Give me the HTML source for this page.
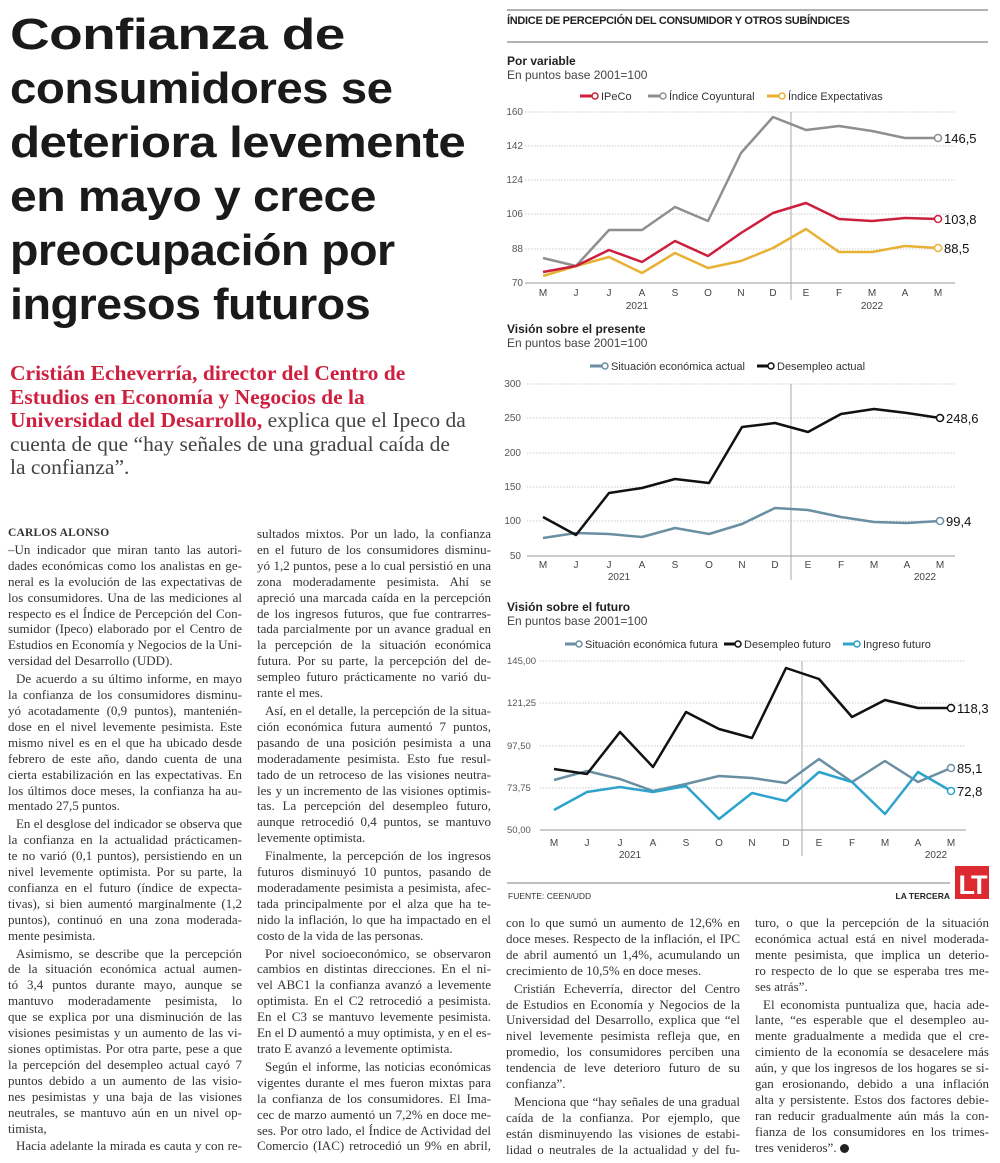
<!DOCTYPE html>
<html><head><meta charset="utf-8">
<style>
*{margin:0;padding:0;box-sizing:border-box}
body{width:1000px;height:1163px;background:#fff;position:relative;overflow:hidden;font-family:"Liberation Serif",serif;color:#333}
.h{position:absolute;left:10px;font-family:"Liberation Sans",sans-serif;font-weight:bold;font-size:44px;color:#1a1a1a;white-space:nowrap;letter-spacing:-0.5px}
.h span{display:inline-block;transform-origin:0 0;transform:scaleX(1.18)}
.sub{position:absolute;left:10px;font-size:21.5px;white-space:nowrap;color:#444;line-height:23.5px}
.sub b{color:#cf1f3f}
.col{position:absolute;width:234px;font-size:13px;line-height:15.9px;color:#333}
.l{white-space:nowrap;text-align:left;overflow:visible}
.j{text-align:justify;text-align-last:justify}
.i{text-indent:8px;margin-top:2px}
.by{font-weight:bold;font-size:11.5px;letter-spacing:0.2px}
svg text{font-family:"Liberation Sans",sans-serif}
</style></head><body>

<div class="h" style="top:10px"><span data-w="335">Confianza de</span></div>
<div class="h" style="top:64px"><span data-w="382">consumidores se</span></div>
<div class="h" style="top:118px"><span data-w="455">deteriora levemente</span></div>
<div class="h" style="top:172px"><span data-w="366">en mayo y crece</span></div>
<div class="h" style="top:226px"><span data-w="385">preocupación por</span></div>
<div class="h" style="top:280px"><span data-w="360">ingresos futuros</span></div>

<div class="sub" style="top:362px">
<div><b>Cristián Echeverría, director del Centro de</b></div>
<div><b>Estudios en Economía y Negocios de la</b></div>
<div><b>Universidad del Desarrollo,</b> explica que el Ipeco da</div>
<div>cuenta de que “hay señales de una gradual caída de</div>
<div>la confianza”.</div>
</div>

<div class="col" style="left:8px;top:526px">
<div class="l by">CARLOS ALONSO</div>
<div class="l j">–Un indicador que miran tanto las autori-</div>
<div class="l j">dades económicas como los analistas en ge-</div>
<div class="l j">neral es la evolución de las expectativas de</div>
<div class="l j">los consumidores. Una de las mediciones al</div>
<div class="l j">respecto es el Índice de Percepción del Con-</div>
<div class="l j">sumidor (Ipeco) elaborado por el Centro de</div>
<div class="l j">Estudios en Economía y Negocios de la Uni-</div>
<div class="l">versidad del Desarrollo (UDD).</div>
<div class="l j i">De acuerdo a su último informe, en mayo</div>
<div class="l j">la confianza de los consumidores disminu-</div>
<div class="l j">yó acotadamente (0,9 puntos), mantenién-</div>
<div class="l j">dose en el nivel levemente pesimista. Este</div>
<div class="l j">mismo nivel es en el que ha ubicado desde</div>
<div class="l j">febrero de este año, dando cuenta de una</div>
<div class="l j">cierta estabilización en las expectativas. En</div>
<div class="l j">los últimos doce meses, la confianza ha au-</div>
<div class="l">mentado 27,5 puntos.</div>
<div class="l j i">En el desglose del indicador se observa que</div>
<div class="l j">la confianza en la actualidad prácticamen-</div>
<div class="l j">te no varió (0,1 puntos), persistiendo en un</div>
<div class="l j">nivel levemente optimista. Por su parte, la</div>
<div class="l j">confianza en el futuro (índice de expecta-</div>
<div class="l j">tivas), si bien aumentó marginalmente (1,2</div>
<div class="l j">puntos), continuó en una zona moderada-</div>
<div class="l">mente pesimista.</div>
<div class="l j i">Asimismo, se describe que la percepción</div>
<div class="l j">de la situación económica actual aumen-</div>
<div class="l j">tó 3,4 puntos durante mayo, aunque se</div>
<div class="l j">mantuvo moderadamente pesimista, lo</div>
<div class="l j">que se explica por una disminución de las</div>
<div class="l j">visiones pesimistas y un aumento de las vi-</div>
<div class="l j">siones optimistas. Por otra parte, pese a que</div>
<div class="l j">la percepción del desempleo actual cayó 7</div>
<div class="l j">puntos debido a un aumento de las visio-</div>
<div class="l j">nes pesimistas y una baja de las visiones</div>
<div class="l j">neutrales, se mantuvo aún en un nivel op-</div>
<div class="l">timista,</div>
<div class="l j i">Hacia adelante la mirada es cauta y con re-</div>
</div>

<div class="col" style="left:257px;top:526px">
<div class="l j">sultados mixtos. Por un lado, la confianza</div>
<div class="l j">en el futuro de los consumidores disminu-</div>
<div class="l j">yó 1,2 puntos, pese a lo cual persistió en una</div>
<div class="l j">zona moderadamente pesimista. Ahí se</div>
<div class="l j">apreció una marcada caída en la percepción</div>
<div class="l j">de los ingresos futuros, que fue contrarres-</div>
<div class="l j">tada parcialmente por un avance gradual en</div>
<div class="l j">la percepción de la situación económica</div>
<div class="l j">futura. Por su parte, la percepción del de-</div>
<div class="l j">sempleo futuro prácticamente no varió du-</div>
<div class="l">rante el mes.</div>
<div class="l j i">Así, en el detalle, la percepción de la situa-</div>
<div class="l j">ción económica futura aumentó 7 puntos,</div>
<div class="l j">pasando de una posición pesimista a una</div>
<div class="l j">moderadamente pesimista. Esto fue resul-</div>
<div class="l j">tado de un retroceso de las visiones neutra-</div>
<div class="l j">les y un incremento de las visiones optimis-</div>
<div class="l j">tas. La percepción del desempleo futuro,</div>
<div class="l j">aunque retrocedió 0,4 puntos, se mantuvo</div>
<div class="l">levemente optimista.</div>
<div class="l j i">Finalmente, la percepción de los ingresos</div>
<div class="l j">futuros disminuyó 10 puntos, pasando de</div>
<div class="l j">moderadamente pesimista a pesimista, afec-</div>
<div class="l j">tada principalmente por el alza que ha te-</div>
<div class="l j">nido la inflación, lo que ha impactado en el</div>
<div class="l">costo de la vida de las personas.</div>
<div class="l j i">Por nivel socioeconómico, se observaron</div>
<div class="l j">cambios en distintas direcciones. En el ni-</div>
<div class="l j">vel ABC1 la confianza avanzó a levemente</div>
<div class="l j">optimista. En el C2 retrocedió a pesimista.</div>
<div class="l j">En el C3 se mantuvo levemente pesimista.</div>
<div class="l j">En el D aumentó a muy optimista, y en el es-</div>
<div class="l">trato E avanzó a levemente optimista.</div>
<div class="l j i">Según el informe, las noticias económicas</div>
<div class="l j">vigentes durante el mes fueron mixtas para</div>
<div class="l j">la confianza de los consumidores. El Ima-</div>
<div class="l j">cec de marzo aumentó un 7,2% en doce me-</div>
<div class="l j">ses. Por otro lado, el Índice de Actividad del</div>
<div class="l j">Comercio (IAC) retrocedió un 9% en abril,</div>
</div>

<div class="col" style="left:506px;top:915px">
<div class="l j">con lo que sumó un aumento de 12,6% en</div>
<div class="l j">doce meses. Respecto de la inflación, el IPC</div>
<div class="l j">de abril aumentó un 1,4%, acumulando un</div>
<div class="l">crecimiento de 10,5% en doce meses.</div>
<div class="l j i">Cristián Echeverría, director del Centro</div>
<div class="l j">de Estudios en Economía y Negocios de la</div>
<div class="l j">Universidad del Desarrollo, explica que “el</div>
<div class="l j">nivel levemente pesimista refleja que, en</div>
<div class="l j">promedio, los consumidores perciben una</div>
<div class="l j">tendencia de leve deterioro futuro de su</div>
<div class="l">confianza”.</div>
<div class="l j i">Menciona que “hay señales de una gradual</div>
<div class="l j">caída de la confianza. Por ejemplo, que</div>
<div class="l j">están disminuyendo las visiones de estabi-</div>
<div class="l j">lidad o neutrales de la actualidad y del fu-</div>
</div>

<div class="col" style="left:755px;top:915px">
<div class="l j">turo, o que la percepción de la situación</div>
<div class="l j">económica actual está en nivel moderada-</div>
<div class="l j">mente pesimista, que implica un deterio-</div>
<div class="l j">ro respecto de lo que se esperaba tres me-</div>
<div class="l">ses atrás”.</div>
<div class="l j i">El economista puntualiza que, hacia ade-</div>
<div class="l j">lante, “es esperable que el desempleo au-</div>
<div class="l j">mente gradualmente a medida que el cre-</div>
<div class="l j">cimiento de la economía se desacelere más</div>
<div class="l j">aún, y que los ingresos de los hogares se si-</div>
<div class="l j">gan erosionando, debido a una inflación</div>
<div class="l j">alta y persistente. Estos dos factores debie-</div>
<div class="l j">ran reducir gradualmente aún más la con-</div>
<div class="l j">fianza de los consumidores en los trimes-</div>
<div class="l">tres venideros”. <span style="display:inline-block;width:9px;height:9px;border-radius:50%;background:#222;vertical-align:-1px"></span></div>
</div>

<svg width="1000" height="910" style="position:absolute;left:0;top:0" xmlns="http://www.w3.org/2000/svg">
<g font-family="Liberation Sans, sans-serif">
<line x1="507" y1="10" x2="988" y2="10" stroke="#999" stroke-width="1.5"/>
<text x="507" y="24" font-size="11" font-weight="bold" fill="#222" letter-spacing="-0.3">ÍNDICE DE PERCEPCIÓN DEL CONSUMIDOR Y OTROS SUBÍNDICES</text>
<line x1="507" y1="42" x2="988" y2="42" stroke="#999" stroke-width="1.5"/>

<text x="507" y="65" font-size="12" font-weight="bold" fill="#222">Por variable</text>
<text x="507" y="79" font-size="12" fill="#444">En puntos base 2001=100</text>
<g font-size="11" fill="#333">
<line x1="580" y1="96" x2="593" y2="96" stroke="#cc1f3d" stroke-width="3"/><circle cx="595" cy="96" r="3" fill="#fff" stroke="#cc1f3d" stroke-width="1.5"/><text x="601" y="100">IPeCo</text>
<line x1="648" y1="96" x2="660" y2="96" stroke="#8f8f8f" stroke-width="3"/><circle cx="663" cy="96" r="3" fill="#fff" stroke="#8f8f8f" stroke-width="1.5"/><text x="669" y="100">Índice Coyuntural</text>
<line x1="767" y1="96" x2="780" y2="96" stroke="#e8b133" stroke-width="3"/><circle cx="782" cy="96" r="3" fill="#fff" stroke="#e8b133" stroke-width="1.5"/><text x="788" y="100">Índice Expectativas</text>
</g>
<g stroke="#bbb" stroke-width="0.8" stroke-dasharray="1.5,1.5">
<line x1="525" y1="112" x2="955" y2="112"/><line x1="525" y1="146" x2="955" y2="146"/><line x1="525" y1="180" x2="955" y2="180"/><line x1="525" y1="214" x2="955" y2="214"/><line x1="525" y1="249" x2="955" y2="249"/>
</g>
<line x1="525" y1="283" x2="955" y2="283" stroke="#999" stroke-width="1"/>
<line x1="791" y1="112" x2="791" y2="300" stroke="#aaa" stroke-width="1"/>
<g font-size="10" fill="#555" text-anchor="end">
<text x="523" y="115">160</text><text x="523" y="149">142</text><text x="523" y="183">124</text><text x="523" y="217">106</text><text x="523" y="252">88</text><text x="523" y="286">70</text>
</g>
<g font-size="10" fill="#444" text-anchor="middle">
<text x="543" y="296">M</text><text x="576" y="296">J</text><text x="609" y="296">J</text><text x="642" y="296">A</text><text x="675" y="296">S</text><text x="708" y="296">O</text><text x="741" y="296">N</text><text x="773" y="296">D</text><text x="806" y="296">E</text><text x="839" y="296">F</text><text x="872" y="296">M</text><text x="905" y="296">A</text><text x="938" y="296">M</text>
<text x="637" y="309">2021</text><text x="872" y="309">2022</text>
</g>
<g fill="none" stroke-width="2.5" stroke-linejoin="round">
<polyline stroke="#8f8f8f" points="543,258 576,266 609,230 642,230 675,207 708,221 741,153 773,117 806,130 839,126 872,131 905,138 938,138"/>
<polyline stroke="#e8b133" points="543,276 576,266 609,257 642,273 675,253 708,268 741,261 773,248 806,229 839,252 872,252 905,246 938,248"/>
<polyline stroke="#cc1f3d" points="543,272 576,266 609,250 642,262 675,241 708,256 741,233 773,213 806,203 839,219 872,221 905,218 938,219"/>
</g>
<circle cx="938" cy="138" r="3.5" fill="#fff" stroke="#8f8f8f" stroke-width="1.5"/>
<circle cx="938" cy="219" r="3.5" fill="#fff" stroke="#cc1f3d" stroke-width="1.5"/>
<circle cx="938" cy="248" r="3.5" fill="#fff" stroke="#e8b133" stroke-width="1.5"/>
<g font-size="13" fill="#111">
<text x="944" y="143">146,5</text><text x="944" y="224">103,8</text><text x="944" y="253">88,5</text>
</g>

<text x="507" y="333" font-size="12" font-weight="bold" fill="#222">Visión sobre el presente</text>
<text x="507" y="347" font-size="12" fill="#444">En puntos base 2001=100</text>
<g font-size="11" fill="#333">
<line x1="590" y1="366" x2="603" y2="366" stroke="#6a8fa3" stroke-width="3"/><circle cx="605" cy="366" r="3" fill="#fff" stroke="#6a8fa3" stroke-width="1.5"/><text x="611" y="370">Situación económica actual</text>
<line x1="757" y1="366" x2="769" y2="366" stroke="#111" stroke-width="3"/><circle cx="771" cy="366" r="3" fill="#fff" stroke="#111" stroke-width="1.5"/><text x="777" y="370">Desempleo actual</text>
</g>
<g stroke="#bbb" stroke-width="0.8" stroke-dasharray="1.5,1.5">
<line x1="527" y1="384" x2="955" y2="384"/><line x1="527" y1="418" x2="955" y2="418"/><line x1="527" y1="453" x2="955" y2="453"/><line x1="527" y1="487" x2="955" y2="487"/><line x1="527" y1="521" x2="955" y2="521"/>
</g>
<line x1="527" y1="556" x2="955" y2="556" stroke="#999" stroke-width="1"/>
<line x1="791" y1="384" x2="791" y2="580" stroke="#aaa" stroke-width="1"/>
<g font-size="10" fill="#555" text-anchor="end">
<text x="521" y="387">300</text><text x="521" y="421">250</text><text x="521" y="456">200</text><text x="521" y="490">150</text><text x="521" y="524">100</text><text x="521" y="559">50</text>
</g>
<g font-size="10" fill="#444" text-anchor="middle">
<text x="543" y="568">M</text><text x="576" y="568">J</text><text x="609" y="568">J</text><text x="642" y="568">A</text><text x="675" y="568">S</text><text x="709" y="568">O</text><text x="742" y="568">N</text><text x="775" y="568">D</text><text x="808" y="568">E</text><text x="841" y="568">F</text><text x="874" y="568">M</text><text x="907" y="568">A</text><text x="940" y="568">M</text>
<text x="619" y="580">2021</text><text x="925" y="580">2022</text>
</g>
<g fill="none" stroke-width="2.5" stroke-linejoin="round">
<polyline stroke="#6a8fa3" points="543,538 576,533 609,534 642,537 675,528 709,534 742,524 775,508 808,510 841,517 874,522 907,523 940,521"/>
<polyline stroke="#111" points="543,517 576,535 609,493 642,488 675,479 709,483 742,427 775,423 808,432 841,414 874,409 907,413 940,418"/>
</g>
<circle cx="940" cy="418" r="3.5" fill="#fff" stroke="#111" stroke-width="1.5"/>
<circle cx="940" cy="521" r="3.5" fill="#fff" stroke="#6a8fa3" stroke-width="1.5"/>
<g font-size="13" fill="#111"><text x="946" y="423">248,6</text><text x="946" y="526">99,4</text></g>

<text x="507" y="611" font-size="12" font-weight="bold" fill="#222">Visión sobre el futuro</text>
<text x="507" y="625" font-size="12" fill="#444">En puntos base 2001=100</text>
<g font-size="11" fill="#333">
<line x1="565" y1="644" x2="577" y2="644" stroke="#6a8fa3" stroke-width="3"/><circle cx="579" cy="644" r="3" fill="#fff" stroke="#6a8fa3" stroke-width="1.5"/><text x="585" y="648">Situación económica futura</text>
<line x1="724" y1="644" x2="736" y2="644" stroke="#111" stroke-width="3"/><circle cx="738" cy="644" r="3" fill="#fff" stroke="#111" stroke-width="1.5"/><text x="744" y="648">Desempleo futuro</text>
<line x1="843" y1="644" x2="855" y2="644" stroke="#2ea3cc" stroke-width="3"/><circle cx="857" cy="644" r="3" fill="#fff" stroke="#2ea3cc" stroke-width="1.5"/><text x="863" y="648">Ingreso futuro</text>
</g>
<g stroke="#bbb" stroke-width="0.8" stroke-dasharray="1.5,1.5">
<line x1="540" y1="661" x2="966" y2="661"/><line x1="540" y1="703" x2="966" y2="703"/><line x1="540" y1="746" x2="966" y2="746"/><line x1="540" y1="788" x2="966" y2="788"/>
</g>
<line x1="540" y1="830" x2="966" y2="830" stroke="#999" stroke-width="1"/>
<line x1="802" y1="661" x2="802" y2="856" stroke="#aaa" stroke-width="1"/>
<g font-size="9.5" fill="#555">
<text x="507" y="664">145,00</text><text x="507" y="706">121,25</text><text x="507" y="749">97,50</text><text x="507" y="791">73,75</text><text x="507" y="833">50,00</text>
</g>
<g font-size="10" fill="#444" text-anchor="middle">
<text x="554" y="846">M</text><text x="587" y="846">J</text><text x="620" y="846">J</text><text x="653" y="846">A</text><text x="686" y="846">S</text><text x="719" y="846">O</text><text x="752" y="846">N</text><text x="786" y="846">D</text><text x="819" y="846">E</text><text x="852" y="846">F</text><text x="885" y="846">M</text><text x="918" y="846">A</text><text x="951" y="846">M</text>
<text x="630" y="858">2021</text><text x="936" y="858">2022</text>
</g>
<g fill="none" stroke-width="2.5" stroke-linejoin="round">
<polyline stroke="#6a8fa3" points="554,780 587,771 620,779 653,791 686,784 719,776 752,778 786,783 819,759 852,782 885,761 918,782 951,768"/>
<polyline stroke="#2ea3cc" points="554,810 587,792 620,787 653,792 686,786 719,819 752,793 786,801 819,772 852,782 885,814 918,772 951,791"/>
<polyline stroke="#111" points="554,769 587,774 620,732 653,767 686,712 719,729 752,738 786,668 819,679 852,717 885,700 918,708 951,708"/>
</g>
<circle cx="951" cy="708" r="3.5" fill="#fff" stroke="#111" stroke-width="1.5"/>
<circle cx="951" cy="768" r="3.5" fill="#fff" stroke="#6a8fa3" stroke-width="1.5"/>
<circle cx="951" cy="791" r="3.5" fill="#fff" stroke="#2ea3cc" stroke-width="1.5"/>
<g font-size="13" fill="#111"><text x="957" y="713">118,3</text><text x="957" y="773">85,1</text><text x="957" y="796">72,8</text></g>

<line x1="507" y1="883" x2="950" y2="883" stroke="#aaa" stroke-width="1.5"/>
<text x="508" y="899" font-size="8.5" fill="#333">FUENTE: CEEN/UDD</text>
<text x="950" y="899" font-size="8.5" font-weight="bold" fill="#222" text-anchor="end">LA TERCERA</text>
<rect x="955" y="866" width="34" height="33" fill="#dd2a30"/>
<text x="972" y="894" font-size="27" font-weight="bold" fill="#fff" text-anchor="middle" letter-spacing="-2">LT</text>
</g>
</svg>

<script>
document.querySelectorAll('.h span').forEach(function(s){
  var w=s.offsetWidth; var t=+s.getAttribute('data-w');
  if(w>0) s.style.transform='scaleX('+(t/w)+')';
});
document.querySelectorAll('.l').forEach(function(el){
  var sp=document.createElement('span');sp.style.whiteSpace='nowrap';
  while(el.firstChild) sp.appendChild(el.firstChild); el.appendChild(sp);
  var ind=el.classList.contains('i')?8:0;
  var w=sp.getBoundingClientRect().width+ind; var max=el.clientWidth;
  var n=sp.textContent.length;
  if(w>max && n>0){ el.style.letterSpacing=(-(w-max+1)/n)+'px'; }
  el.innerHTML=sp.innerHTML;
});
</script>
</body></html>
